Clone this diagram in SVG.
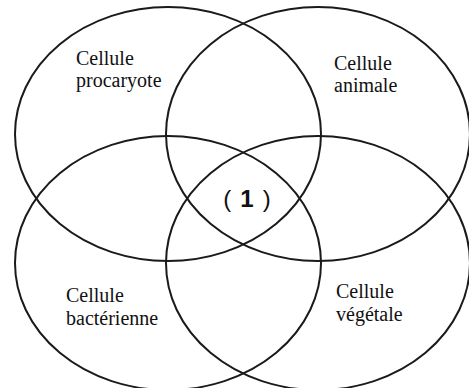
<svg xmlns="http://www.w3.org/2000/svg" width="469" height="388" viewBox="0 0 469 388">
<style>
.c{fill:none;stroke:#1a1a1a;stroke-width:2}
</style>
<rect width="469" height="388" fill="#fff"/>
<g id="procaryote">
<ellipse class="c" cx="168" cy="134" rx="153" ry="127"/>
<g font-family="'Liberation Serif', 'Times New Roman', serif" font-size="20" fill="#111">
<text x="76" y="65">Cellule</text>
<text x="76" y="87">procaryote</text>
</g>
</g>
<g id="animale">
<ellipse class="c" cx="318" cy="134" rx="152" ry="127"/>
<g font-family="'Liberation Serif', 'Times New Roman', serif" font-size="20" fill="#111">
<text x="334" y="70">Cellule</text>
<text x="334" y="92">animale</text>
</g>
</g>
<g id="bacterienne">
<ellipse class="c" cx="168" cy="263" rx="153" ry="127"/>
<g font-family="'Liberation Serif', 'Times New Roman', serif" font-size="20" fill="#111">
<text x="66" y="302">Cellule</text>
<text x="66" y="325">bactérienne</text>
</g>
</g>
<g id="vegetale">
<ellipse class="c" cx="318" cy="263" rx="152" ry="127"/>
<g font-family="'Liberation Serif', 'Times New Roman', serif" font-size="20" fill="#111">
<text x="336" y="298">Cellule</text>
<text x="336" y="321">végétale</text>
</g>
</g>
<g id="centre">
<text x="247" y="207" text-anchor="middle" font-family="'Liberation Sans', Arial, sans-serif" font-size="24" fill="#111">(<tspan dx="9" font-weight="bold">1</tspan><tspan dx="9">)</tspan></text>
</g>
</svg>
